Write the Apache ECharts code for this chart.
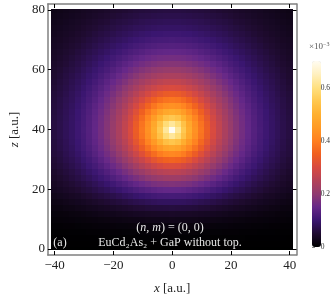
<!DOCTYPE html>
<html>
<head>
<meta charset="utf-8">
<script src="https://cdn.jsdelivr.net/npm/echarts@6/dist/echarts.min.js"></script>
<style>html,body{margin:0;padding:0;background:#fff;}#c{width:333px;height:300px;}</style>
</head>
<body>
<div id="c"></div>
<script>
// cell centres (a.u.)
const xCenters = [-40,-38,-36,-34,-32,-30,-28,-26,-24,-22,-20,-18,-16,-14,-12,-10,-8,-6,-4,-2,0,2,4,6,8,10,12,14,16,18,20,22,24,26,28,30,32,34,36,38,40];
const zCenters = [0,2,4,6,8,10,12,14,16,18,20,22,24,26,28,30,32,34,36,38,40,42,44,46,48,50,52,54,56,58,60,62,64,66,68,70,72,74,76,78,80];
// density (x10^-3), one row per z centre (z = 0 ... 80), columns x = -40 ... 40
const density = [
[0,0,0,0,0,0,0,0,0,0,0,0,0,0,0,0,0,0,0,0,0,0,0,0,0,0,0,0,0,0,0,0,0,0,0,0,0,0,0,0,0],
[.001,.001,.001,.001,.001,.001,.001,.001,.001,.001,.001,.001,.001,.001,.001,.001,.001,.001,.001,.001,.001,.001,.001,.001,.001,.001,.001,.001,.001,.001,.001,.001,.001,.001,.001,.001,.001,.001,.001,.001,.001],
[.001,.002,.002,.002,.002,.002,.002,.002,.003,.003,.003,.003,.003,.003,.004,.004,.004,.004,.004,.004,.004,.004,.004,.004,.004,.004,.004,.003,.003,.003,.003,.003,.003,.002,.002,.002,.002,.002,.002,.002,.001],
[.003,.003,.003,.004,.004,.004,.005,.005,.005,.006,.006,.006,.007,.007,.007,.007,.008,.008,.008,.008,.008,.008,.008,.008,.008,.007,.007,.007,.007,.006,.006,.006,.005,.005,.005,.004,.004,.004,.003,.003,.003],
[.005,.005,.006,.006,.007,.008,.008,.009,.010,.010,.011,.012,.012,.013,.014,.014,.015,.015,.015,.015,.015,.015,.015,.015,.015,.014,.014,.013,.012,.012,.011,.010,.010,.009,.008,.008,.007,.006,.006,.005,.005],
[.008,.009,.010,.011,.012,.013,.014,.015,.016,.017,.019,.020,.021,.022,.023,.024,.025,.026,.026,.026,.027,.026,.026,.026,.025,.024,.023,.022,.021,.020,.019,.017,.016,.015,.014,.013,.012,.011,.010,.009,.008],
[.012,.013,.014,.016,.017,.019,.021,.023,.025,.027,.028,.030,.032,.034,.036,.037,.039,.040,.041,.041,.042,.041,.041,.040,.039,.037,.036,.034,.032,.030,.028,.027,.025,.023,.021,.019,.017,.016,.014,.013,.012],
[.017,.018,.021,.022,.025,.027,.030,.032,.035,.038,.041,.044,.047,.050,.053,.055,.058,.059,.060,.061,.062,.061,.060,.059,.058,.055,.053,.050,.047,.044,.041,.038,.035,.032,.030,.027,.025,.022,.021,.018,.017],
[.022,.024,.027,.030,.033,.036,.040,.044,.048,.052,.056,.060,.064,.069,.073,.076,.080,.083,.085,.086,.086,.086,.085,.083,.080,.076,.073,.069,.064,.060,.056,.052,.048,.044,.040,.036,.033,.030,.027,.024,.022],
[.027,.031,.034,.038,.041,.046,.051,.056,.061,.066,.071,.077,.084,.089,.095,.100,.105,.109,.112,.113,.114,.113,.112,.109,.105,.100,.095,.089,.084,.077,.071,.066,.061,.056,.051,.046,.041,.038,.034,.031,.027],
[.034,.037,.042,.046,.051,.057,.062,.069,.076,.082,.090,.097,.106,.113,.121,.128,.134,.140,.144,.147,.148,.147,.144,.140,.134,.128,.121,.113,.106,.097,.090,.082,.076,.069,.062,.057,.051,.046,.042,.037,.034],
[.038,.043,.048,.053,.059,.065,.072,.080,.088,.097,.106,.116,.125,.135,.145,.155,.163,.171,.176,.179,.181,.179,.176,.171,.163,.155,.145,.135,.125,.116,.106,.097,.088,.080,.072,.065,.059,.053,.048,.043,.038],
[.043,.048,.054,.061,.067,.075,.083,.092,.102,.112,.124,.135,.148,.161,.173,.185,.196,.206,.213,.218,.220,.218,.213,.206,.196,.185,.173,.161,.148,.135,.124,.112,.102,.092,.083,.075,.067,.061,.054,.048,.043],
[.047,.053,.059,.066,.074,.083,.092,.102,.114,.126,.139,.153,.169,.184,.200,.214,.229,.241,.251,.257,.260,.257,.251,.241,.229,.214,.200,.184,.169,.153,.139,.126,.114,.102,.092,.083,.074,.066,.059,.053,.047],
[.052,.058,.065,.073,.081,.091,.102,.113,.126,.140,.156,.172,.190,.209,.228,.247,.265,.282,.295,.304,.307,.304,.295,.282,.265,.247,.228,.209,.190,.172,.156,.140,.126,.113,.102,.091,.081,.073,.065,.058,.052],
[.055,.062,.070,.077,.087,.098,.109,.122,.137,.153,.170,.190,.210,.232,.255,.278,.302,.324,.341,.352,.357,.352,.341,.324,.302,.278,.255,.232,.210,.190,.170,.153,.137,.122,.109,.098,.087,.077,.070,.062,.055],
[.059,.065,.074,.083,.093,.105,.117,.132,.148,.165,.184,.206,.229,.255,.282,.312,.341,.369,.393,.410,.416,.410,.393,.369,.341,.312,.282,.255,.229,.206,.184,.165,.148,.132,.117,.105,.093,.083,.074,.065,.059],
[.061,.069,.077,.086,.098,.110,.123,.138,.156,.174,.196,.221,.246,.274,.307,.341,.376,.413,.445,.469,.478,.469,.445,.413,.376,.341,.307,.274,.246,.221,.196,.174,.156,.138,.123,.110,.098,.086,.077,.069,.061],
[.062,.070,.079,.089,.100,.113,.127,.143,.161,.181,.204,.230,.257,.289,.325,.363,.405,.449,.494,.531,.545,.531,.494,.449,.405,.363,.325,.289,.257,.230,.204,.181,.161,.143,.127,.113,.100,.089,.079,.070,.062],
[.064,.072,.081,.091,.103,.115,.129,.146,.165,.186,.210,.236,.266,.299,.338,.379,.427,.479,.536,.591,.621,.591,.536,.479,.427,.379,.338,.299,.266,.236,.210,.186,.165,.146,.129,.115,.103,.091,.081,.072,.064],
[.064,.072,.081,.091,.103,.116,.130,.147,.166,.187,.211,.238,.268,.302,.341,.384,.433,.488,.551,.621,.700,.621,.551,.488,.433,.384,.341,.302,.268,.238,.211,.187,.166,.147,.130,.116,.103,.091,.081,.072,.064],
[.064,.072,.081,.091,.103,.115,.129,.146,.165,.186,.210,.236,.266,.299,.338,.379,.427,.479,.536,.591,.621,.591,.536,.479,.427,.379,.338,.299,.266,.236,.210,.186,.165,.146,.129,.115,.103,.091,.081,.072,.064],
[.063,.071,.080,.090,.101,.114,.128,.144,.163,.183,.206,.232,.260,.292,.328,.367,.409,.454,.499,.536,.551,.536,.499,.454,.409,.367,.328,.292,.260,.232,.206,.183,.163,.144,.128,.114,.101,.090,.080,.071,.063],
[.062,.070,.079,.088,.100,.112,.125,.141,.159,.178,.200,.225,.251,.280,.313,.348,.384,.421,.454,.479,.488,.479,.454,.421,.384,.348,.313,.280,.251,.225,.200,.178,.159,.141,.125,.112,.100,.088,.079,.070,.062],
[.061,.068,.077,.086,.097,.109,.122,.137,.154,.172,.192,.215,.239,.266,.294,.325,.355,.384,.409,.427,.433,.427,.409,.384,.355,.325,.294,.266,.239,.215,.192,.172,.154,.137,.122,.109,.097,.086,.077,.068,.061],
[.059,.067,.075,.083,.094,.105,.117,.131,.147,.164,.183,.204,.226,.249,.274,.299,.325,.348,.367,.379,.384,.379,.367,.348,.325,.299,.274,.249,.226,.204,.183,.164,.147,.131,.117,.105,.094,.083,.075,.067,.059],
[.058,.064,.072,.081,.090,.101,.113,.125,.140,.156,.173,.191,.211,.232,.253,.274,.294,.313,.328,.338,.341,.338,.328,.313,.294,.274,.253,.232,.211,.191,.173,.156,.140,.125,.113,.101,.090,.081,.072,.064,.058],
[.055,.062,.069,.077,.086,.096,.107,.119,.132,.146,.162,.178,.196,.214,.232,.249,.266,.280,.292,.299,.302,.299,.292,.280,.266,.249,.232,.214,.196,.178,.162,.146,.132,.119,.107,.096,.086,.077,.069,.062,.055],
[.052,.059,.066,.074,.082,.091,.101,.112,.124,.137,.151,.165,.180,.196,.211,.226,.239,.251,.260,.266,.268,.266,.260,.251,.239,.226,.211,.196,.180,.165,.151,.137,.124,.112,.101,.091,.082,.074,.066,.059,.052],
[.050,.056,.063,.070,.078,.086,.095,.105,.116,.127,.139,.152,.165,.178,.191,.204,.215,.225,.232,.236,.238,.236,.232,.225,.215,.204,.191,.178,.165,.152,.139,.127,.116,.105,.095,.086,.078,.070,.063,.056,.050],
[.048,.053,.060,.066,.073,.081,.089,.098,.108,.117,.128,.139,.151,.162,.173,.183,.192,.200,.206,.210,.211,.210,.206,.200,.192,.183,.173,.162,.151,.139,.128,.117,.108,.098,.089,.081,.073,.066,.060,.053,.048],
[.045,.050,.055,.062,.068,.075,.083,.091,.100,.109,.117,.127,.137,.146,.156,.164,.172,.178,.183,.186,.187,.186,.183,.178,.172,.164,.156,.146,.137,.127,.117,.109,.100,.091,.083,.075,.068,.062,.055,.050,.045],
[.042,.047,.052,.058,.064,.070,.077,.084,.092,.100,.108,.116,.124,.132,.140,.147,.154,.159,.163,.165,.166,.165,.163,.159,.154,.147,.140,.132,.124,.116,.108,.100,.092,.084,.077,.070,.064,.058,.052,.047,.042],
[.040,.044,.049,.053,.059,.065,.071,.077,.084,.091,.098,.105,.112,.119,.125,.131,.137,.141,.144,.146,.147,.146,.144,.141,.137,.131,.125,.119,.112,.105,.098,.091,.084,.077,.071,.065,.059,.053,.049,.044,.040],
[.037,.041,.045,.050,.054,.060,.065,.071,.077,.083,.089,.095,.101,.107,.113,.117,.122,.125,.128,.129,.130,.129,.128,.125,.122,.117,.113,.107,.101,.095,.089,.083,.077,.071,.065,.060,.054,.050,.045,.041,.037],
[.035,.038,.042,.046,.050,.055,.060,.065,.070,.075,.081,.086,.091,.096,.101,.105,.109,.112,.114,.115,.116,.115,.114,.112,.109,.105,.101,.096,.091,.086,.081,.075,.070,.065,.060,.055,.050,.046,.042,.038,.035],
[.032,.035,.039,.042,.046,.050,.054,.059,.064,.068,.073,.078,.082,.086,.090,.094,.097,.100,.101,.103,.103,.103,.101,.100,.097,.094,.090,.086,.082,.078,.073,.068,.064,.059,.054,.050,.046,.042,.039,.035,.032],
[.030,.033,.036,.039,.042,.046,.050,.053,.058,.062,.066,.070,.074,.077,.081,.083,.086,.088,.090,.091,.091,.091,.090,.088,.086,.083,.081,.077,.074,.070,.066,.062,.058,.053,.050,.046,.042,.039,.036,.033,.030],
[.028,.030,.033,.036,.039,.042,.045,.049,.052,.055,.060,.063,.066,.069,.072,.075,.077,.079,.080,.081,.081,.081,.080,.079,.077,.075,.072,.069,.066,.063,.060,.055,.052,.049,.045,.042,.039,.036,.033,.030,.028],
[.025,.028,.030,.033,.035,.038,.041,.044,.047,.050,.053,.056,.059,.062,.064,.067,.068,.070,.071,.072,.072,.072,.071,.070,.068,.067,.064,.062,.059,.056,.053,.050,.047,.044,.041,.038,.035,.033,.030,.028,.025],
[.023,.025,.028,.030,.032,.035,.037,.040,.042,.045,.048,.050,.052,.055,.058,.059,.061,.062,.063,.064,.064,.064,.063,.062,.061,.059,.058,.055,.052,.050,.048,.045,.042,.040,.037,.035,.032,.030,.028,.025,.023]
];
const xTicks = [-40,-20,0,20,40];
const zTicks = [0,20,40,60,80];
const cbTicks = [0,0.2,0.4,0.6];
const cbMax = 0.7;
// colour stops every 0.05 from 0 to 0.7
const sunset = ['#000000','#1f0b30','#3a1670','#662888','#903a70','#b44258','#d84a40','#f06020','#ff8020','#ff9a25','#ffb030','#ffc850','#ffe080','#fff0c0','#fffcf2'];

const cells = [];
zCenters.forEach((z, r) => xCenters.forEach((x, c) => {
  if (density[r] && density[r][c] !== undefined) cells.push([x, z, density[r][c]]);
}));

const serif = '"Liberation Serif", "DejaVu Serif", serif';
const fmtNum = v => (v < 0 ? '\u2212' + Math.abs(v) : String(v));
const frameLine = { show: true, onZero: false, lineStyle: { color: '#808080', width: 1.5 } };
const inTick = (vals) => ({ show: true, inside: true, length: 4, customValues: vals, lineStyle: { color: '#000', width: 1 } });
const half = 1;

const chart = echarts.init(document.getElementById('c'), null, { renderer: 'canvas' });
chart.setOption({
  animation: false,
  backgroundColor: '#fff',
  grid: [
    { left: 43.5, top: 4, width: 253, height: 254 },
    { left: 312, top: 61, width: 9, height: 186 }
  ],
  xAxis: [
    { gridIndex: 0, type: 'value', min: -42.3, max: 42.3, position: 'bottom',
      axisLine: frameLine, axisTick: inTick(xTicks), splitLine: { show: false },
      axisLabel: { customValues: xTicks, formatter: fmtNum, fontFamily: serif, fontSize: 13, color: '#222', margin: 4 },
      name: '{i|x} [a.u.]', nameLocation: 'middle', nameGap: 27,
      nameTextStyle: { fontFamily: serif, fontSize: 13, color: '#222', rich: { i: { fontFamily: serif, fontStyle: 'italic', fontSize: 13, color: '#222' } } } },
    { gridIndex: 0, type: 'value', min: -42.3, max: 42.3, position: 'top',
      axisLine: frameLine, axisTick: inTick(xTicks), axisLabel: { show: false }, splitLine: { show: false } },
    { gridIndex: 1, type: 'value', show: false, min: 0, max: 1 }
  ],
  yAxis: [
    { gridIndex: 0, type: 'value', min: -2, max: 82, position: 'left',
      axisLine: frameLine, axisTick: inTick(zTicks), splitLine: { show: false },
      axisLabel: { customValues: zTicks, formatter: fmtNum, fontFamily: serif, fontSize: 13, color: '#222', margin: 3 },
      name: '{i|z} [a.u.]', nameLocation: 'middle', nameGap: 26, nameRotate: 90,
      nameTextStyle: { fontFamily: serif, fontSize: 13, color: '#222', rich: { i: { fontFamily: serif, fontStyle: 'italic', fontSize: 13, color: '#222' } } } },
    { gridIndex: 0, type: 'value', min: -2, max: 82, position: 'right',
      axisLine: frameLine, axisTick: inTick(zTicks), axisLabel: { show: false }, splitLine: { show: false } },
    { gridIndex: 1, type: 'value', min: 0, max: cbMax, position: 'right',
      axisLine: { show: false }, splitLine: { show: false },
      axisTick: { show: true, inside: false, length: 3, customValues: cbTicks, lineStyle: { color: '#888', width: 1 } },
      axisLabel: { customValues: cbTicks, fontFamily: serif, fontSize: 7.5, color: '#333', margin: 1 } }
  ],
  visualMap: {
    type: 'continuous', min: 0, max: cbMax, dimension: 2, seriesIndex: 0,
    calculable: false, show: true, left: 312, top: 61, itemWidth: 9, itemHeight: 186, padding: 0,
    inRange: { color: sunset }, text: null
  },
  series: [{
    type: 'custom', xAxisIndex: 0, yAxisIndex: 0, clip: true,
    data: cells,
    renderItem: function (params, api) {
      const x = api.value(0), z = api.value(1);
      const p0 = api.coord([Math.max(x - half, -41), Math.min(z + half, 80)]);
      const p1 = api.coord([Math.min(x + half, 41), Math.max(z - half, 0)]);
      const x0 = Math.floor(p0[0]), y0 = Math.floor(p0[1]);
      const x1 = Math.ceil(p1[0]), y1 = Math.ceil(p1[1]);
      return { type: 'rect', shape: { x: x0, y: y0, width: x1 - x0, height: y1 - y0 },
        style: { fill: api.visual('color') } };
    }
  }],
  graphic: [
    { type: 'text', x: 309, y: 47, z: 100, style: { text: '\u00d710{s|\u22123}', fill: '#555', font: '9px ' + serif,
      textAlign: 'left', textVerticalAlign: 'middle', rich: { s: { fontFamily: serif, fontSize: 6, fill: '#555', color: '#555', verticalAlign: 'top', padding: [0, 0, 5, 0] } } } },
    { type: 'text', x: 170, y: 228, z: 100, style: { text: '({i|n}, {i|m}) = (0, 0)', fill: '#e8e8e8', font: '12px ' + serif,
      textAlign: 'center', textVerticalAlign: 'middle', rich: { i: { fontStyle: 'italic', fontFamily: serif, fontSize: 12, fill: '#e8e8e8', color: '#e8e8e8' } } } },
    { type: 'text', x: 60, y: 243, z: 100, style: { text: '(a)', fill: '#e8e8e8', font: '12px ' + serif, textAlign: 'center', textVerticalAlign: 'middle' } },
    { type: 'text', x: 170, y: 243, z: 100, style: { text: 'EuCd\u2082As\u2082 + GaP without top.', fill: '#e8e8e8', font: '12px ' + serif, textAlign: 'center', textVerticalAlign: 'middle' } }
  ]
});
</script>
</body>
</html>
